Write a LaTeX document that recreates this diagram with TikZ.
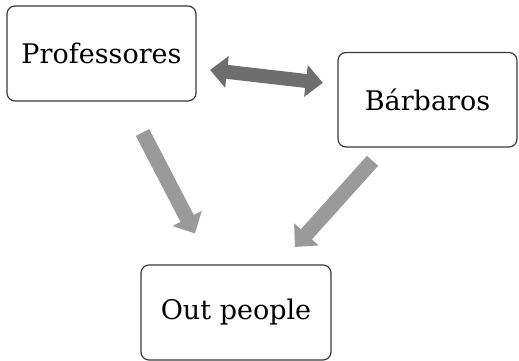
\documentclass[tikz,border=0pt]{standalone}
\usepackage{fontspec}
\setmainfont{DejaVu Serif}
\usetikzlibrary{arrows.meta,calc}
\definecolor{boxline}{HTML}{3A3A3A}
\definecolor{darkarrow}{HTML}{6E6E6E}
\definecolor{lightarrow}{HTML}{9A9A9A}
\tikzset{
  conceptbox/.style={draw=boxline, line width=1.2pt, rounded corners=8pt, fill=white,
    minimum width=#1, minimum height=95pt, inner sep=0pt,
    font=\fontsize{27}{32}\selectfont, text=black},
  fatarrow/.style={line width=15pt, line cap=butt, draw=lightarrow,
    -{Triangle[length=17pt, width=32pt]}},
  fatdouble/.style={line width=14pt, line cap=butt, draw=darkarrow,
    {Triangle[length=17pt, width=31pt]}-{Triangle[length=17pt, width=31pt]}}
}
\begin{document}
\begin{tikzpicture}[x=1pt, y=-1pt]
\useasboundingbox (0,0) rectangle (519,361);
\node[conceptbox=189pt] (prof) at (101.5,53.5) {Professores};
\node[conceptbox=179pt, minimum height=94.5pt] (barb) at (427.5,99.75) {Bárbaros};
\node[conceptbox=190pt] (out) at (236,312.5) {Out people};
\draw[fatdouble] ($(prof.center)!0.333!(barb.center)+(0,1)$) -- ($(prof.center)!0.679!(barb.center)+(0,-2)$);
\draw[fatarrow] ($(prof.center)!0.305!(out.center)$) -- ($(prof.center)!0.695!(out.center)$);
\draw[fatarrow] ($(barb.center)!0.287!(out.center)$) -- ($(barb.center)!0.692!(out.center)$);
\end{tikzpicture}
\end{document}
